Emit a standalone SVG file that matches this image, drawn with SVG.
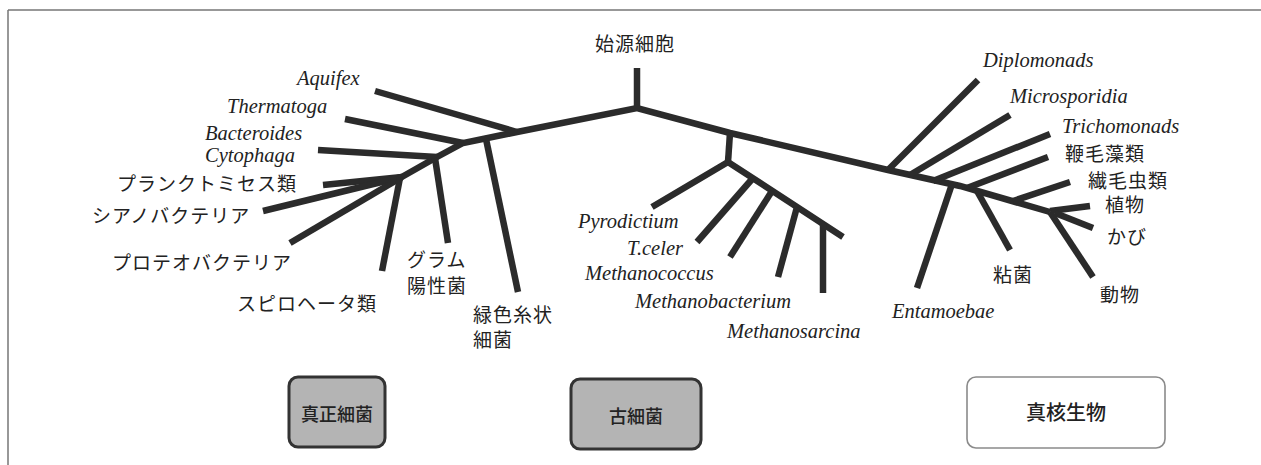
<svg xmlns="http://www.w3.org/2000/svg" width="1261" height="465" viewBox="0 0 1261 465">
  <style>
    .br { fill: none; stroke: #2b2b2b; stroke-width: 6.5; stroke-linecap: butt; stroke-linejoin: miter; }
    .it { font-family: "Liberation Serif", serif; font-style: italic; font-size: 20.5px; fill: #222; }
    .jp { font-family: "Liberation Serif", "Noto Sans CJK JP", serif; font-size: 19px; letter-spacing: 1px; fill: #222; }
    .box { fill: #b4b4b4; stroke: #333; stroke-width: 3; }
    .boxw { fill: #fff; stroke: #8a8a8a; stroke-width: 1.6; }
    .bt { font-family: "Liberation Serif", "Noto Sans CJK JP", serif; font-size: 18px; font-weight: 500; fill: #222; text-anchor: middle; }
  </style>

  <rect width="1261" height="465" fill="#fff"/>
  <g id="frame" fill="none" stroke="#777" stroke-width="1.5">
    <path d="M8,10 H1261 M8,10 V465"/>
  </g>

  <g id="connectors">
    <!-- root and trunk -->
    <path class="br" d="M637,68 V108"/>
    <path class="br" d="M400,178 L437,157 L463,143 L517,132 L637,108 L730,133 L888,170 L960,186 L1050,212"/>
    <!-- bacteria -->
    <path class="br" d="M375,91 L517,132"/>
    <path class="br" d="M345,119 L463,143"/>
    <path class="br" d="M318,150 L437,157"/>
    <path class="br" d="M323,185 L402,177"/>
    <path class="br" d="M263,211 L402,177"/>
    <path class="br" d="M290,243 L402,177"/>
    <path class="br" d="M382,271 L400,178"/>
    <path class="br" d="M448,243 L435,158"/>
    <path class="br" d="M518,292 L486,139"/>
    <!-- archaea -->
    <path class="br" d="M730,133 L728,162"/>
    <path class="br" d="M652,207 L728,162 L843,237"/>
    <path class="br" d="M697,242 L753,178"/>
    <path class="br" d="M730,257 L772,191"/>
    <path class="br" d="M778,277 L797,207"/>
    <path class="br" d="M823,293 L823,224"/>
    <!-- eukaryotes -->
    <path class="br" d="M978,80 L888,170"/>
    <path class="br" d="M1010,115 L910,175"/>
    <path class="br" d="M1050,134 L933,181"/>
    <path class="br" d="M1048,157 L967,188"/>
    <path class="br" d="M1070,182 L1013,201"/>
    <path class="br" d="M917,288 L952,184"/>
    <path class="br" d="M1010,250 L977,191"/>
    <path class="br" d="M1090,206 L1050,211"/>
    <path class="br" d="M1093,228 L1055,213"/>
    <path class="br" d="M1093,277 L1050,212"/>
  </g>

  <g id="root"><text class="jp" x="595" y="51">始源細胞</text></g>

  <g id="aquifex"><text class="it" x="297" y="85">Aquifex</text></g>
  <g id="thermatoga"><text class="it" x="227" y="113">Thermatoga</text></g>
  <g id="bacteroides"><text class="it" x="205" y="140">Bacteroides</text><text class="it" x="205" y="162">Cytophaga</text></g>
  <g id="planctomyces"><text class="jp" x="117" y="191">プランクトミセス類</text></g>
  <g id="cyanobacteria"><text class="jp" x="92" y="223">シアノバクテリア</text></g>
  <g id="proteobacteria"><text class="jp" x="112" y="270">プロテオバクテリア</text></g>
  <g id="spirochetes"><text class="jp" x="237" y="311">スピロヘータ類</text></g>
  <g id="gram-positive"><text class="jp" x="407" y="267">グラム</text><text class="jp" x="407" y="293">陽性菌</text></g>
  <g id="green-filamentous"><text class="jp" x="473" y="322">緑色糸状</text><text class="jp" x="473" y="347">細菌</text></g>

  <g id="pyrodictium"><text class="it" x="578" y="228">Pyrodictium</text></g>
  <g id="tceler"><text class="it" x="627" y="255">T.celer</text></g>
  <g id="methanococcus"><text class="it" x="585" y="280">Methanococcus</text></g>
  <g id="methanobacterium"><text class="it" x="635" y="308">Methanobacterium</text></g>
  <g id="methanosarcina"><text class="it" x="727" y="338">Methanosarcina</text></g>

  <g id="diplomonads"><text class="it" x="983" y="67">Diplomonads</text></g>
  <g id="microsporidia"><text class="it" x="1010" y="103">Microsporidia</text></g>
  <g id="trichomonads"><text class="it" x="1062" y="133">Trichomonads</text></g>
  <g id="flagellates"><text class="jp" x="1065" y="161">鞭毛藻類</text></g>
  <g id="ciliates"><text class="jp" x="1088" y="188">繊毛虫類</text></g>
  <g id="plants"><text class="jp" x="1105" y="212">植物</text></g>
  <g id="fungi"><text class="jp" x="1107" y="244">かび</text></g>
  <g id="slime-molds"><text class="jp" x="993" y="282">粘菌</text></g>
  <g id="animals"><text class="jp" x="1100" y="302">動物</text></g>
  <g id="entamoebae"><text class="it" x="892" y="318">Entamoebae</text></g>

  <g id="box-bacteria">
    <rect class="box" x="289" y="377" width="96" height="70" rx="9"/>
    <text class="bt" x="337" y="421">真正細菌</text>
  </g>
  <g id="box-archaea">
    <rect class="box" x="571" y="379" width="130" height="70" rx="9"/>
    <text class="bt" x="636" y="423">古細菌</text>
  </g>
  <g id="box-eukarya">
    <rect class="boxw" x="967" y="377" width="198" height="71" rx="9"/>
    <text class="bt" x="1066" y="420" style="font-size:20px">真核生物</text>
  </g>
</svg>
